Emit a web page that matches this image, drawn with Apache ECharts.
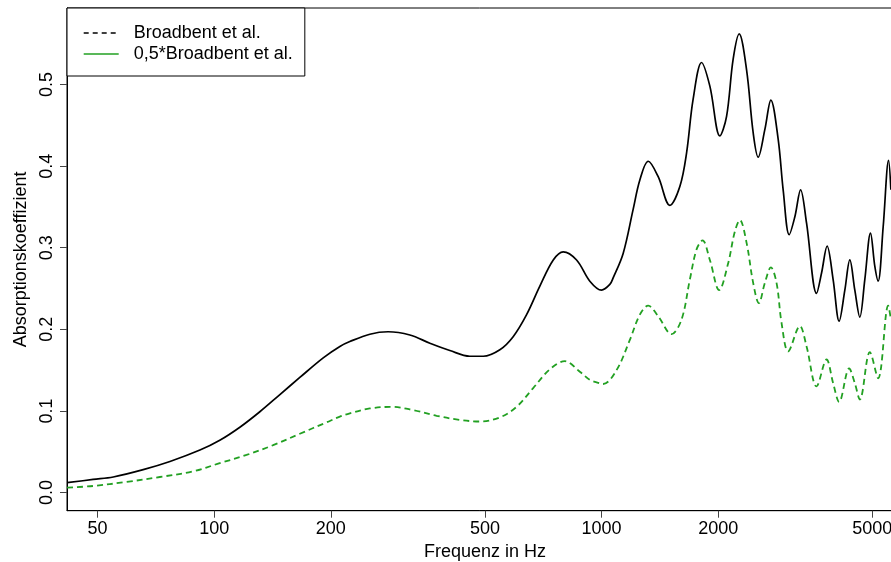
<!DOCTYPE html>
<html>
<head>
<meta charset="utf-8">
<script src="https://cdn.jsdelivr.net/npm/echarts@6/dist/echarts.min.js"></script>
<style>
  html, body { margin: 0; padding: 0; background: #fff; }
  #chart { width: 891px; height: 562px; }
</style>
</head>
<body>
<div id="chart"></div>
<script>
// Frequencies (Hz) and absorption values
const freqBroadbent = [41.7, 48.7, 54.9, 65.6, 76.9, 91.9, 103.4, 116.5, 131.2, 147.8, 166.4, 191.2, 211.1, 224, 252.3, 281.2, 320.1, 360.5, 405.9, 457.1, 494.9, 546.4, 591.3, 640.5, 693, 750.5, 796.2, 862.1, 932.8, 1000, 1050.5, 1071.3, 1137, 1206.6, 1255.6, 1319.5, 1400.3, 1500.7, 1592.5, 1657.3, 1723.5, 1811.8, 1903.7, 2020.3, 2102.4, 2186.3, 2266, 2367.9, 2462.4, 2536.7, 2640, 2735.4, 2856.9, 2944.4, 3050.8, 3155.2, 3264.4, 3382.4, 3589.2, 3697.4, 3822, 3960.9, 4104.8, 4246.2, 4374.2, 4506.1, 4641.6, 4781.5, 4946.1, 5075.3, 5175.6, 5333.6, 5507, 5583];
const absBroadbent = [0.012, 0.016, 0.019, 0.028, 0.038, 0.052, 0.064, 0.080, 0.099, 0.120, 0.141, 0.165, 0.179, 0.185, 0.194, 0.197, 0.193, 0.183, 0.174, 0.167, 0.167, 0.175, 0.191, 0.218, 0.253, 0.285, 0.295, 0.285, 0.259, 0.248, 0.255, 0.263, 0.293, 0.347, 0.383, 0.406, 0.387, 0.352, 0.375, 0.416, 0.482, 0.527, 0.498, 0.437, 0.461, 0.531, 0.562, 0.518, 0.441, 0.411, 0.445, 0.481, 0.433, 0.370, 0.316, 0.338, 0.371, 0.330, 0.244, 0.269, 0.302, 0.261, 0.210, 0.248, 0.285, 0.248, 0.215, 0.261, 0.318, 0.277, 0.259, 0.326, 0.407, 0.371];

const freqHalf = [41.7, 48.7, 59.4, 72.4, 88.3, 103.4, 121.2, 142, 166.4, 195.1, 211.1, 224, 252.3, 287, 326.4, 375.2, 430.7, 485.2, 546.4, 603.5, 666.1, 735.7, 803.9, 879, 932.8, 970.7, 1009.5, 1093.2, 1183.1, 1255.6, 1319.5, 1400.3, 1515.9, 1608.8, 1690.2, 1759.1, 1823, 1903.7, 2011.9, 2122.4, 2208.6, 2275.1, 2367.9, 2462.4, 2547.3, 2640, 2735.4, 2829.5, 2914.8, 3032.1, 3250.6, 3382.4, 3589.2, 3808.6, 3960.9, 4104.8, 4356.1, 4506.1, 4641.6, 4926.1, 5175.6, 5494.4, 5583];
const absHalf = [0.006, 0.008, 0.013, 0.019, 0.026, 0.036, 0.046, 0.058, 0.072, 0.086, 0.093, 0.097, 0.103, 0.105, 0.101, 0.094, 0.089, 0.087, 0.092, 0.105, 0.128, 0.151, 0.161, 0.148, 0.138, 0.135, 0.133, 0.150, 0.187, 0.218, 0.229, 0.216, 0.194, 0.212, 0.261, 0.298, 0.309, 0.285, 0.248, 0.281, 0.320, 0.334, 0.306, 0.257, 0.232, 0.257, 0.276, 0.257, 0.208, 0.173, 0.204, 0.179, 0.130, 0.163, 0.134, 0.111, 0.152, 0.134, 0.114, 0.172, 0.140, 0.229, 0.212];

const seriesNames = ['Broadbent et al.', '0,5*Broadbent et al.'];
const xTicks = [50, 100, 200, 500, 1000, 2000, 5000];
const yTicks = [0, 0.1, 0.2, 0.3, 0.4, 0.5];

const FONT = "'Liberation Sans', Arial, sans-serif";
const GREEN = '#22a022';
const hiddenSymbol = { color: 'transparent', borderColor: 'transparent', borderWidth: 0, opacity: 0 };

const zip = (a, b) => a.map((v, i) => [v, b[i]]);

const chart = echarts.init(document.getElementById('chart'), null, { renderer: 'canvas' });
chart.setOption({
  animation: false,
  backgroundColor: '#fff',
  grid: {
    left: 67, top: 8, right: -12, bottom: 51.3,
    containLabel: false, outerBoundsMode: 'none',
    show: true, borderColor: '#000', borderWidth: 1, backgroundColor: 'transparent'
  },
  legend: {
    left: 67, top: 8, orient: 'vertical',
    backgroundColor: '#fff', borderColor: '#000', borderWidth: 1,
    padding: [16, 12, 13, 16],
    itemWidth: 35, itemHeight: 14, itemGap: 3,
    textStyle: { fontFamily: FONT, fontSize: 18, color: '#000', padding: [0, 0, 0, 10] },
    data: [
      { name: seriesNames[0], itemStyle: hiddenSymbol, lineStyle: { type: [5, 4], color: '#000', width: 1.4 } },
      { name: seriesNames[1], itemStyle: hiddenSymbol, lineStyle: { type: 'solid', color: GREEN, width: 1.4 } }
    ]
  },
  xAxis: {
    type: 'log', logBase: 10, min: 41.7, max: 6000,
    name: 'Frequenz in Hz', nameLocation: 'middle', nameGap: 28,
    nameTextStyle: { fontFamily: FONT, fontSize: 18, color: '#000' },
    axisLine: { show: true, onZero: false, lineStyle: { color: '#000', width: 1 } },
    axisTick: { show: true, length: 7, lineStyle: { color: '#444' }, customValues: xTicks },
    axisLabel: { fontFamily: FONT, fontSize: 18, color: '#000', margin: 9, customValues: xTicks,
      formatter: v => String(Math.round(v)) },
    splitLine: { show: false },
    minorTick: { show: false }
  },
  yAxis: {
    type: 'value', min: -0.0223, max: 0.5938,
    name: 'Absorptionskoeffizient', nameLocation: 'middle', nameGap: 35, nameRotate: 90,
    nameTextStyle: { fontFamily: FONT, fontSize: 18, color: '#000' },
    axisLine: { show: true, onZero: false, lineStyle: { color: '#000', width: 1 } },
    axisTick: { show: true, length: 7, lineStyle: { color: '#444' }, customValues: yTicks },
    axisLabel: { fontFamily: FONT, fontSize: 18, color: '#000', margin: 11, rotate: 90,
      customValues: yTicks, formatter: v => v.toFixed(1) },
    splitLine: { show: false }
  },
  series: [
    {
      name: seriesNames[0], type: 'line', data: zip(freqBroadbent, absBroadbent),
      smooth: 0.35, symbol: 'none', showSymbol: false,
      lineStyle: { color: '#000', width: 1.7, type: 'solid' }, itemStyle: { color: '#000' }
    },
    {
      name: seriesNames[1], type: 'line', data: zip(freqHalf, absHalf),
      smooth: 0.35, symbol: 'none', showSymbol: false,
      lineStyle: { color: GREEN, width: 1.8, type: [6, 4] }, itemStyle: { color: GREEN }
    }
  ]
});
</script>
</body>
</html>
